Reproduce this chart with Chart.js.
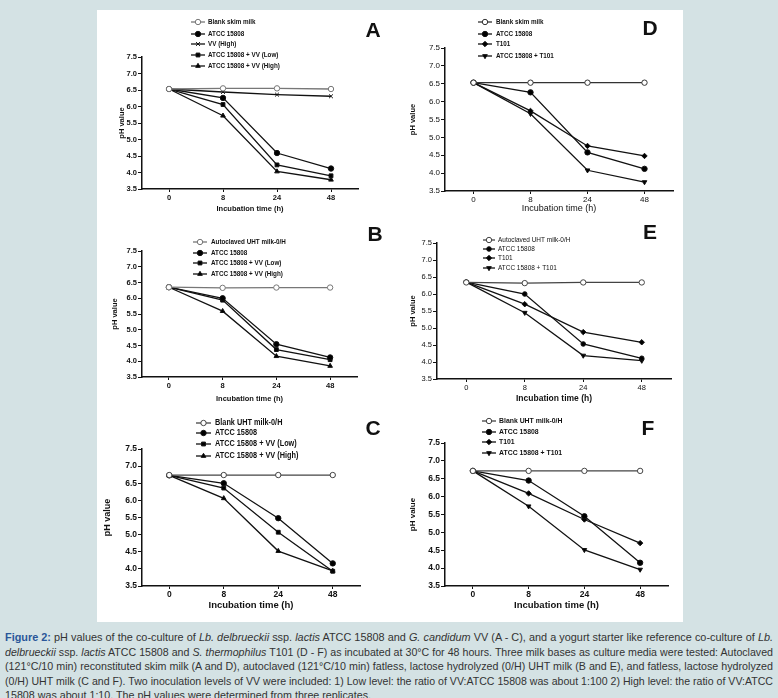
<!DOCTYPE html>
<html>
<head>
<meta charset="utf-8">
<script src="https://cdn.jsdelivr.net/npm/chart.js@4.4.1/dist/chart.umd.min.js"></script>
<style>
body { margin: 0; width: 778px; height: 698px; background: #d4e2e4; position: relative; overflow: hidden; font-family: 'Liberation Sans', Arial, sans-serif; }
#sheet { position: absolute; left: 97px; top: 10px; width: 586px; height: 612px; background: #fff; }
.cell { position: absolute; }
.letter { position: absolute; font: bold 21px 'Liberation Sans', Arial, sans-serif; color: #111; transform: translate(-50%, -50%); }
#caption { position: absolute; left: 5px; top: 630px; width: 768px; font: 11.5px/14.5px 'Liberation Sans', Arial, sans-serif; color: #333; }
#caption .ln { white-space: nowrap; text-align: justify; text-align-last: justify; transform-origin: 0 0; height: 14.5px; }
#caption .ln.last { text-align-last: left; }
#caption b { color: #2a5699; }
</style>
</head>
<body>
<div id="sheet"></div>
<div id="caption">
<div class="ln"><b>Figure 2:</b> pH values of the co-culture of <i>Lb. delbrueckii</i> ssp. <i>lactis</i> ATCC 15808 and <i>G. candidum</i> VV (A - C), and a yogurt starter like reference co-culture of <i>Lb.</i></div>
<div class="ln"><i>delbrueckii</i> ssp. <i>lactis</i> ATCC 15808 and <i>S. thermophilus</i> T101 (D - F) as incubated at 30°C for 48 hours. Three milk bases as culture media were tested: Autoclaved</div>
<div class="ln">(121°C/10 min) reconstituted skim milk (A and D), autoclaved (121°C/10 min) fatless, lactose hydrolyzed (0/H) UHT milk (B and E), and fatless, lactose hydrolyzed</div>
<div class="ln">(0/H) UHT milk (C and F). Two inoculation levels of VV were included: 1) Low level: the ratio of VV:ATCC 15808 was about 1:100 2) High level: the ratio of VV:ATCC</div>
<div class="ln last">15808 was about 1:10. The pH values were determined from three replicates.</div>
</div>
<script>
// x categories (incubation time, h)
const hours = ['0', '8', '24', '48'];

// A - skim milk, VV co-culture
const aBlank = [6.53, 6.55, 6.55, 6.53];
const aAtcc = [6.53, 6.26, 4.59, 4.12];
const aVvHigh = [6.53, 6.44, 6.36, 6.31];
const aAtccVvLow = [6.53, 6.06, 4.23, 3.90];
const aAtccVvHigh = [6.53, 5.72, 4.03, 3.78];

// B - autoclaved UHT milk, VV co-culture
const bBlank = [6.35, 6.33, 6.34, 6.34];
const bAtcc = [6.35, 6.00, 4.54, 4.12];
const bAtccVvLow = [6.35, 5.94, 4.37, 4.05];
const bAtccVvHigh = [6.35, 5.59, 4.16, 3.85];

// C - UHT milk, VV co-culture
const cBlank = [6.74, 6.74, 6.74, 6.74];
const cAtcc = [6.73, 6.50, 5.48, 4.16];
const cAtccVvLow = [6.73, 6.36, 5.07, 3.93];
const cAtccVvHigh = [6.73, 6.06, 4.52, 3.94];

// D - skim milk, T101 co-culture
const dBlank = [6.53, 6.53, 6.53, 6.53];
const dAtcc = [6.53, 6.26, 4.58, 4.12];
const dT101 = [6.53, 5.74, 4.76, 4.48];
const dAtccT101 = [6.53, 5.66, 4.08, 3.75];

// E - autoclaved UHT milk, T101 co-culture
const eBlank = [6.34, 6.32, 6.34, 6.34];
const eAtcc = [6.35, 6.00, 4.53, 4.11];
const eT101 = [6.35, 5.70, 4.88, 4.58];
const eAtccT101 = [6.35, 5.45, 4.19, 4.04];

// F - UHT milk, T101 co-culture
const fBlank = [6.72, 6.72, 6.72, 6.72];
const fAtcc = [6.72, 6.45, 5.45, 4.15];
const fT101 = [6.72, 6.09, 5.36, 4.70];
const fAtccT101 = [6.72, 5.73, 4.51, 3.96];

const phMin = 3.5, phMax = 7.5, phStep = 0.5;

const SANS = "'Liberation Sans', Arial, sans-serif";

// caption lines: squeeze to the column width like the condensed original
document.querySelectorAll('#caption .ln').forEach(el => {
    el.style.display = 'inline-block';
    const nat = el.getBoundingClientRect().width;
    el.style.display = 'block';
    if (el.classList.contains('last')) {
        el.style.transform = 'scaleX(0.93)';
        return;
    }
    const w = Math.max(768, nat + 2);
    el.style.width = w + 'px';
    el.style.transform = `scaleX(${768 / w})`;
});

// marker styles
const MK = {
    open:   { pointStyle: 'circle', fill: '#fff' },
    dot:    { pointStyle: 'circle', fill: '#000' },
    cross:  { pointStyle: 'crossRot', fill: '#000' },
    square: { pointStyle: 'rect', fill: '#000' },
    tri:    { pointStyle: 'triangle', fill: '#000' },
    diam:   { pointStyle: 'rectRot', fill: '#000' },
    down:   { pointStyle: 'triangle', fill: '#000', rotation: 180 }
};

// legend drawn inside the panel: line with marker, then label
const panelLegend = {
    id: 'panelLegend',
    afterDraw(chart, args, o) {
        const ctx = chart.ctx;
        ctx.save();
        chart.data.datasets.forEach((ds, i) => {
            const y = o.rows[i];
            ctx.strokeStyle = ds.borderColor;
            ctx.lineWidth = ds.borderWidth;
            ctx.beginPath();
            ctx.moveTo(o.x1, y);
            ctx.lineTo(o.x2, y);
            ctx.stroke();
            ctx.fillStyle = ds.pointBackgroundColor;
            ctx.strokeStyle = ds.pointBorderColor;
            ctx.lineWidth = 1;
            Chart.helpers.drawPoint(ctx, {
                pointStyle: ds.pointStyle, rotation: ds.pointRotation || 0,
                radius: ds.pointRadius, borderWidth: 1
            }, (o.x1 + o.x2) / 2, y);
            ctx.save();
            ctx.translate(o.tx, y);
            ctx.scale(o.sx, 1);
            ctx.fillStyle = '#111';
            ctx.font = o.font;
            ctx.textBaseline = 'middle';
            ctx.fillText(ds.label, 0, 0);
            ctx.restore();
        });
        ctx.restore();
    }
};

function makePanel(p) {
    const box = p.box, plot = p.plot;
    const w = box.r - box.l, h = box.b - box.t;
    const cell = document.createElement('div');
    cell.className = 'cell';
    cell.style.cssText = `left:${box.l}px;top:${box.t}px;width:${w}px;height:${h}px`;
    const cv = document.createElement('canvas');
    cell.appendChild(cv);
    document.body.appendChild(cell);

    const letter = document.createElement('div');
    letter.className = 'letter';
    letter.style.left = p.letter[0] + 'px';
    letter.style.top = p.letter[1] + 'px';
    letter.textContent = p.name;
    document.body.appendChild(letter);

    const yW = plot.L - box.l;
    const xH = box.b - plot.B;
    const yTitleLh = p.yTitleSize * 1.2;

    new Chart(cv, {
        type: 'line',
        data: {
            labels: hours,
            datasets: p.series.map(s => ({
                label: s.label,
                data: s.data,
                borderColor: s.color || '#111',
                borderWidth: 1.3,
                pointStyle: MK[s.mk].pointStyle,
                pointRotation: MK[s.mk].rotation || 0,
                pointRadius: s.r || 2.7,
                pointBackgroundColor: MK[s.mk].fill,
                pointBorderColor: s.color || '#111',
                pointBorderWidth: 1,
                tension: 0
            }))
        },
        options: {
            responsive: true,
            maintainAspectRatio: false,
            animation: false,
            layout: { padding: { left: 0, bottom: 0, top: plot.T - box.t, right: box.r - plot.R } },
            plugins: {
                legend: { display: false },
                tooltip: { enabled: false },
                panelLegend: {
                    x1: p.legend.x1 - box.l, x2: p.legend.x2 - box.l, tx: p.legend.tx - box.l,
                    rows: p.legend.rows.map(r => r - box.t),
                    font: p.legend.font, sx: p.legend.sx
                }
            },
            scales: {
                x: {
                    type: 'category',
                    offset: true,
                    border: { color: '#111', width: 1.5 },
                    grid: { drawOnChartArea: false, tickLength: 3, color: '#111' },
                    ticks: { color: '#111', padding: 1, font: { family: SANS, size: p.tickSize, weight: p.tickWeight } },
                    title: {
                        display: true, text: 'Incubation time (h)', color: '#111',
                        font: { family: SANS, size: p.xTitleSize, weight: p.xTitleWeight },
                        padding: { top: 0, bottom: 1 }
                    },
                    afterFit(scale) { scale.height = xH; }
                },
                y: {
                    min: phMin, max: phMax,
                    border: { color: '#111', width: 1.5 },
                    grid: { drawOnChartArea: false, tickLength: 4, color: '#111' },
                    ticks: {
                        stepSize: phStep, color: '#111', padding: 1,
                        font: { family: SANS, size: p.tickSize, weight: p.tickWeight },
                        callback: v => Number(v).toFixed(1)
                    },
                    title: {
                        display: p.yTitleX != null, text: 'pH value', color: '#111',
                        font: { family: SANS, size: p.yTitleSize, weight: 'bold' },
                        padding: { top: Math.max(0, (p.yTitleX || 0) - box.l - yTitleLh / 2), bottom: 0 }
                    },
                    afterFit(scale) { scale.width = yW; }
                }
            }
        },
        plugins: [panelLegend]
    });
}

makePanel({
    name: 'A', letter: [373, 30],
    box: { l: 100, t: 12, r: 400, b: 214 }, plot: { L: 142, R: 358, T: 57, B: 189 },
    tickSize: 7.5, tickWeight: 'bold', xTitleSize: 7.5, xTitleWeight: 'bold', yTitleSize: 7.5, yTitleX: 122,
    legend: { x1: 191, x2: 205, tx: 208, rows: [22, 34, 44, 55, 66], font: 'bold 7.5px ' + SANS, sx: 0.84 },
    series: [
        { label: 'Blank skim milk', data: aBlank, mk: 'open', color: '#777' },
        { label: 'ATCC 15808', data: aAtcc, mk: 'dot' },
        { label: 'VV (High)', data: aVvHigh, mk: 'cross' },
        { label: 'ATCC 15808 + VV (Low)', data: aAtccVvLow, mk: 'square' },
        { label: 'ATCC 15808 + VV (High)', data: aAtccVvHigh, mk: 'tri' }
    ]
});

makePanel({
    name: 'B', letter: [375, 234],
    box: { l: 100, t: 226, r: 400, b: 404 }, plot: { L: 142, R: 357, T: 251, B: 377 },
    tickSize: 7.5, tickWeight: 'bold', xTitleSize: 7.5, xTitleWeight: 'bold', yTitleSize: 7.5, yTitleX: 115,
    legend: { x1: 193, x2: 207, tx: 211, rows: [242, 253, 263, 274], font: 'bold 7.5px ' + SANS, sx: 0.84 },
    series: [
        { label: 'Autoclaved UHT milk-0/H', data: bBlank, mk: 'open', color: '#777' },
        { label: 'ATCC 15808', data: bAtcc, mk: 'dot' },
        { label: 'ATCC 15808 + VV (Low)', data: bAtccVvLow, mk: 'square' },
        { label: 'ATCC 15808 + VV (High)', data: bAtccVvHigh, mk: 'tri' }
    ]
});

makePanel({
    name: 'C', letter: [373, 428],
    box: { l: 100, t: 412, r: 400, b: 612 }, plot: { L: 142, R: 360, T: 449, B: 586 },
    tickSize: 8.5, tickWeight: 'bold', xTitleSize: 9.5, xTitleWeight: 'bold', yTitleSize: 9, yTitleX: 108,
    legend: { x1: 196, x2: 211, tx: 215, rows: [423, 433, 444, 456], font: 'bold 8.5px ' + SANS, sx: 0.86 },
    series: [
        { label: 'Blank UHT milk-0/H', data: cBlank, mk: 'open', color: '#444' },
        { label: 'ATCC 15808', data: cAtcc, mk: 'dot' },
        { label: 'ATCC 15808 + VV (Low)', data: cAtccVvLow, mk: 'square' },
        { label: 'ATCC 15808 + VV (High)', data: cAtccVvHigh, mk: 'tri' }
    ]
});

makePanel({
    name: 'D', letter: [650, 28],
    box: { l: 403, t: 12, r: 683, b: 215 }, plot: { L: 445, R: 673, T: 48, B: 191 },
    tickSize: 8, tickWeight: 'normal', xTitleSize: 9, xTitleWeight: 'normal', yTitleSize: 7.5, yTitleX: 413,
    legend: { x1: 478, x2: 492, tx: 496, rows: [22, 34, 44, 56], font: 'bold 7.5px ' + SANS, sx: 0.84 },
    series: [
        { label: 'Blank skim milk', data: dBlank, mk: 'open', color: '#333' },
        { label: 'ATCC 15808', data: dAtcc, mk: 'dot' },
        { label: 'T101', data: dT101, mk: 'diam' },
        { label: 'ATCC 15808 + T101', data: dAtccT101, mk: 'down' }
    ]
});

makePanel({
    name: 'E', letter: [650, 232],
    box: { l: 403, t: 226, r: 683, b: 405 }, plot: { L: 437, R: 671, T: 243, B: 379 },
    tickSize: 7.5, tickWeight: 'normal', xTitleSize: 8.5, xTitleWeight: 'bold', yTitleSize: 7.5, yTitleX: 413,
    legend: { x1: 483, x2: 495, tx: 498, rows: [240, 249, 258, 268], font: '7.5px ' + SANS, sx: 0.86 },
    series: [
        { label: 'Autoclaved UHT milk-0/H', data: eBlank, mk: 'open', color: '#444' },
        { label: 'ATCC 15808', data: eAtcc, mk: 'dot', r: 2.3 },
        { label: 'T101', data: eT101, mk: 'diam' },
        { label: 'ATCC 15808 + T101', data: eAtccT101, mk: 'down' }
    ]
});

makePanel({
    name: 'F', letter: [648, 428],
    box: { l: 403, t: 412, r: 683, b: 612 }, plot: { L: 445, R: 668, T: 443, B: 586 },
    tickSize: 8.5, tickWeight: 'bold', xTitleSize: 9.5, xTitleWeight: 'bold', yTitleSize: 8, yTitleX: 413,
    legend: { x1: 482, x2: 496, tx: 499, rows: [421, 432, 442, 453], font: 'bold 8px ' + SANS, sx: 0.86 },
    series: [
        { label: 'Blank UHT milk-0/H', data: fBlank, mk: 'open', color: '#444' },
        { label: 'ATCC 15808', data: fAtcc, mk: 'dot' },
        { label: 'T101', data: fT101, mk: 'diam' },
        { label: 'ATCC 15808 + T101', data: fAtccT101, mk: 'down' }
    ]
});
</script>
</body>
</html>
